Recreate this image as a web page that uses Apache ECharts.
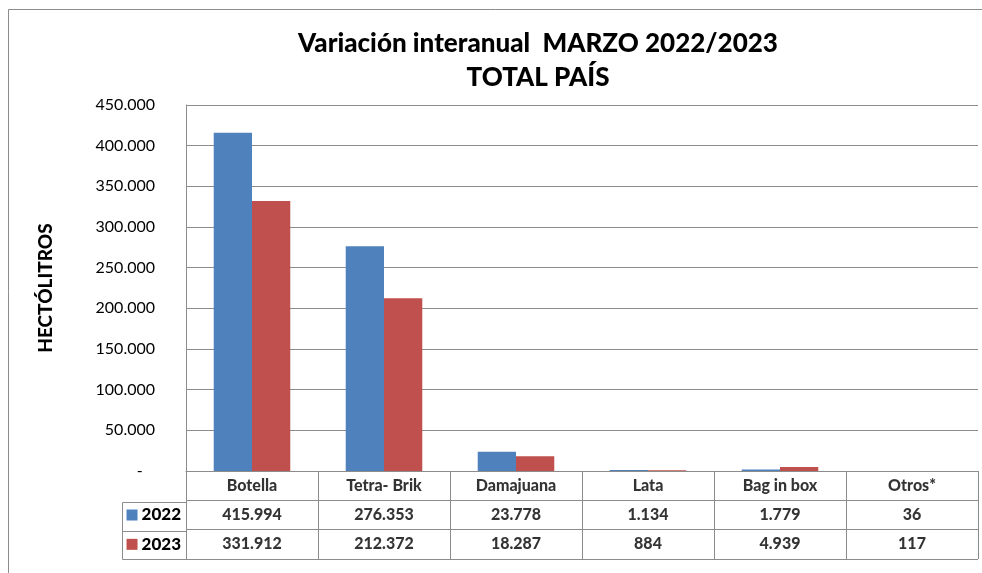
<!DOCTYPE html>
<html><head><meta charset="utf-8">
<script src="https://cdn.jsdelivr.net/npm/echarts@6/dist/echarts.min.js"></script>
<style>html,body{margin:0;padding:0;background:#fff}#c{width:982px;height:573px}</style>
</head><body><div id="c"></div>
<script>
const categories = ['Botella', 'Tetra- Brik', 'Damajuana', 'Lata', 'Bag in box', 'Otros*'];
const seriesNames = ['2022', '2023'];
const values2022 = [415994, 276353, 23778, 1134, 1779, 36];
const values2023 = [331912, 212372, 18287, 884, 4939, 117];
const titleLines = ['Variación interanual  MARZO 2022/2023', 'TOTAL PAÍS'];
const yName = 'HECTÓLITROS';

const FONT = 'Lato';
const BLUE = '#4F81BD', RED = '#C0504D', LINE = '#8C8C8C';
function fmt(n) { return n === 0 ? '-   ' : String(n).replace(/\B(?=(\d{3})+(?!\d))/g, '.'); }

const tableRows = ['hdr'].concat(seriesNames);
const tableData = [];
categories.forEach((c, i) => {
  tableData.push({ value: [i, 0], name: c });
  tableData.push({ value: [i, 1], name: fmt(values2022[i]) });
  tableData.push({ value: [i, 2], name: fmt(values2023[i]) });
});

const chart = echarts.init(document.getElementById('c'), null, { renderer: 'canvas' });
chart.setOption({
  animation: false,
  backgroundColor: '#fff',
  textStyle: { fontFamily: FONT },
  title: {
    text: titleLines.join('\n'),
    left: 533, top: 22, textAlign: 'center',
    textStyle: { fontFamily: FONT, fontWeight: 900, fontSize: 26, lineHeight: 34, color: '#000' }
  },
  graphic: [
    { type: 'rect', shape: { x: 8.5, y: 9.5, width: 1000, height: 600 }, style: { fill: null, stroke: '#8C8C8C', lineWidth: 1 }, silent: true },
    { type: 'polyline', shape: { points: [[186, 502.5], [122.5, 502.5], [122.5, 559.5], [186, 559.5]] }, style: { fill: null, stroke: LINE, lineWidth: 1 } },
    { type: 'line', shape: { x1: 122.5, y1: 531.5, x2: 186, y2: 531.5 }, style: { stroke: LINE, lineWidth: 1 } }
  ],
  grid: [
    { left: 186, top: 105, right: 4, bottom: 102, containLabel: false },
    { left: 186, top: 471, right: 4, bottom: 14, containLabel: false }
  ],
  xAxis: [
    { type: 'category', gridIndex: 0, data: categories,
      axisLine: { show: true, lineStyle: { color: LINE } }, axisTick: { show: false }, axisLabel: { show: false } },
    { type: 'category', gridIndex: 1, data: categories,
      axisLine: { show: false }, axisTick: { show: false }, axisLabel: { show: false },
      splitLine: { show: true, lineStyle: { color: LINE, width: 1 } } }
  ],
  yAxis: [
    { type: 'value', gridIndex: 0, min: 0, max: 450000, interval: 50000,
      name: yName, nameLocation: 'middle', nameGap: 131, nameRotate: 90,
      nameTextStyle: { fontFamily: FONT, fontWeight: 900, fontSize: 19, color: '#000' },
      axisLine: { show: true, lineStyle: { color: LINE } }, axisTick: { show: false },
      axisLabel: { formatter: fmt, fontFamily: FONT, fontSize: 16, color: '#000', margin: 31 },
      splitLine: { show: true, lineStyle: { color: LINE, width: 1 } } },
    { type: 'category', gridIndex: 1, data: tableRows, inverse: true,
      axisLine: { show: false }, axisTick: { show: false },
      splitLine: { show: true, lineStyle: { color: LINE, width: 1 } },
      axisLabel: {
        margin: 5, fontFamily: FONT, fontWeight: 900, fontSize: 17, color: '#000',
        formatter: v => v === 'hdr' ? '' : (v === seriesNames[0] ? '{a|}' : '{b|}') + ' ' + v,
        rich: {
          a: { width: 11, height: 11, backgroundColor: BLUE },
          b: { width: 11, height: 11, backgroundColor: RED }
        }
      } }
  ],
  series: [
    { name: seriesNames[0], type: 'bar', xAxisIndex: 0, yAxisIndex: 0, data: values2022,
      itemStyle: { color: BLUE }, barGap: '0%', barCategoryGap: '42%' },
    { name: seriesNames[1], type: 'bar', xAxisIndex: 0, yAxisIndex: 0, data: values2023,
      itemStyle: { color: RED }, barGap: '0%', barCategoryGap: '42%' },
    { type: 'scatter', xAxisIndex: 1, yAxisIndex: 1, symbolSize: 0, data: tableData, silent: true,
      label: { show: true, position: 'inside', formatter: p => p.name,
        fontFamily: FONT, fontWeight: 900, fontSize: 16, color: '#000' } }
  ]
});
</script></body></html>
